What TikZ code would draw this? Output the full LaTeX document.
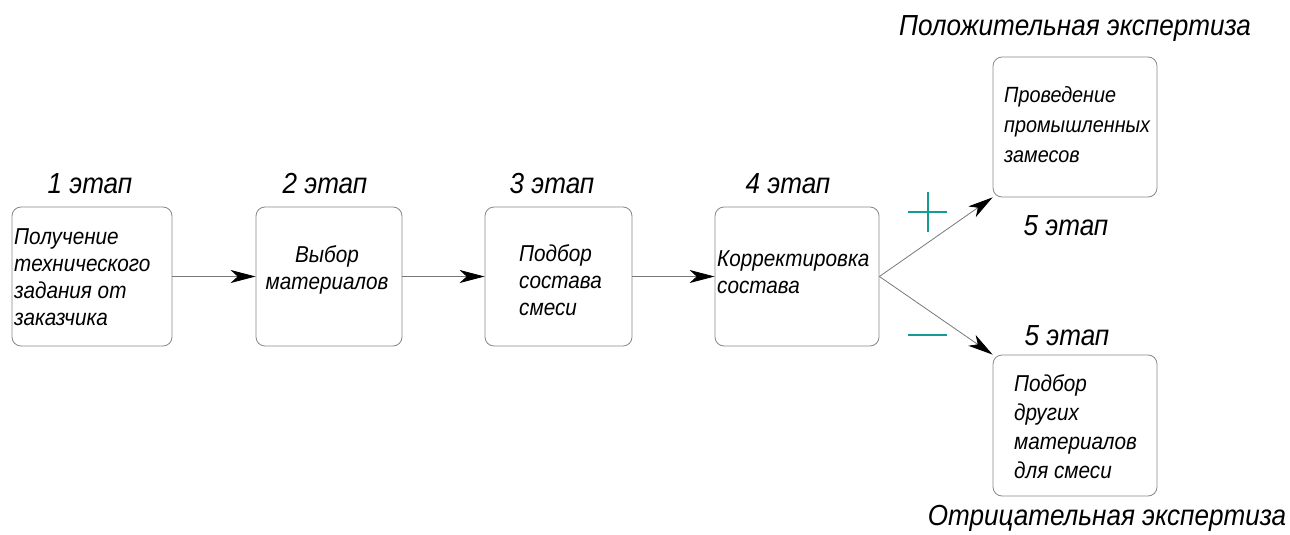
\documentclass[tikz,border=0pt]{standalone}
\usepackage{fontspec}
\setmainfont{Liberation Sans}[FakeStretch=0.9]
\usetikzlibrary{arrows.meta}
\definecolor{signteal}{RGB}{20,155,150}
\definecolor{linegray}{RGB}{120,120,120}
\definecolor{boxgray}{RGB}{135,135,135}
\begin{document}
\begin{tikzpicture}[x=1pt,y=-1pt,
  every node/.style={font=\itshape},
  box/.style={draw=boxgray, line width=0.8pt, rounded corners=9pt, inner sep=0pt},
  boxtext/.style={font=\itshape\fontsize{23}{27}\selectfont, inner sep=0pt, align=left},
  stagelab/.style={font=\itshape\fontsize{29}{34}\selectfont, inner sep=0pt, anchor=base},
  arr/.style={draw=linegray, line width=0.8pt, -{Stealth[length=25pt, width=13pt, inset=7pt, color=black]}},
  sign/.style={draw=signteal, line width=2.5pt}
]
\useasboundingbox (0,0) rectangle (1290,535);

% boxes
\node[box, minimum width=160pt, minimum height=139pt] (b1) at (92,276.5) {};
\node[box, minimum width=146pt, minimum height=139pt] (b2) at (329,276.5) {};
\node[box, minimum width=147pt, minimum height=139pt] (b3) at (558.5,276.5) {};
\node[box, minimum width=164pt, minimum height=139pt] (b4) at (797,276.5) {};
\node[box, minimum width=164pt, minimum height=140pt] (b5) at (1075,127) {};
\node[box, minimum width=164pt, minimum height=141pt] (b6) at (1075,425.5) {};

% box texts
\node[boxtext, anchor=west] (t1) at (14,277) {Получение\\технического\\задания от\\заказчика};
\node[boxtext, align=center] (t2) at (327,270) {Выбор\\материалов};
\node[boxtext, anchor=west] (t3) at (519,280) {Подбор\\состава\\смеси};
\node[boxtext, anchor=west] (t4) at (717,272) {Корректировка\\состава};
\node[boxtext, anchor=west, font=\itshape\fontsize{22}{30}\selectfont] (t5) at (1004,125) {Проведение\\промышленных\\замесов};
\node[boxtext, anchor=west, font=\itshape\fontsize{23}{29}\selectfont] (t6) at (1014,427) {Подбор\\других\\материалов\\для смеси};

% stage labels
\node[stagelab] (s1) at (90,193) {1 этап};
\node[stagelab] (s2) at (325,193) {2 этап};
\node[stagelab] (s3) at (552,193) {3 этап};
\node[stagelab] (s4) at (788,193) {4 этап};
\node[stagelab] (s5a) at (1066,235) {5 этап};
\node[stagelab] (s5b) at (1067,345) {5 этап};
\node[stagelab] (pos) at (1075,36) {Положительная экспертиза};
\node[stagelab] (neg) at (1107,525) {Отрицательная экспертиза};

% connectors
\draw[arr] (b1.east) -- (b2.west);
\draw[arr] (b2.east) -- (b3.west);
\draw[arr] (b3.east) -- (b4.west);
\draw[arr] (b4.east) -- (b5.south west);
\draw[arr] (b4.east) -- (b6.north west);

% plus and minus signs
\draw[sign] (908,212) -- (947,212) (928,192) -- (928,232);
\draw[sign] (908,335) -- (947,335);
\end{tikzpicture}
\end{document}
